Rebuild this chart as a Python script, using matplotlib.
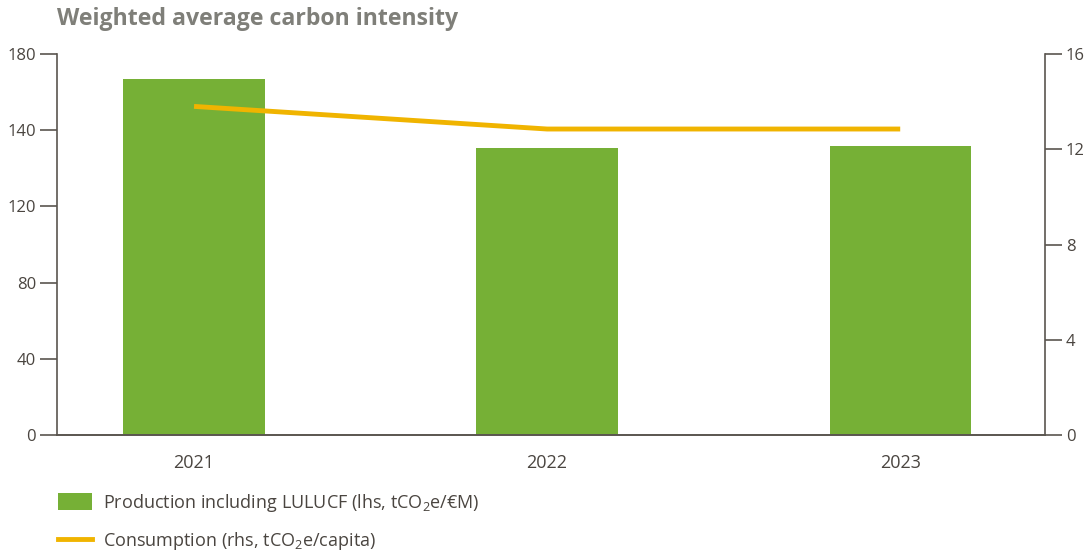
import matplotlib
matplotlib.use('Agg')
import matplotlib.pyplot as plt
from matplotlib.patches import Patch
from matplotlib.lines import Line2D

years = ['2021', '2022', '2023']
production = [186.7, 150.7, 151.7]
consumption = [13.8, 12.85, 12.85]
left_ticks = [0, 40, 80, 120, 160, 200]
left_labels = ['0', '40', '80', '120', '140', '180']
right_ticks = [0, 4, 8, 12, 16]

green = '#76b036'
yellow = '#f0b400'
axis_col = '#5a554f'
text_col = '#4a4540'

plt.rcParams['font.family'] = ['Open Sans', 'DejaVu Sans']
plt.rcParams['mathtext.fontset'] = 'custom'
plt.rcParams['mathtext.rm'] = 'Open Sans'
plt.rcParams['mathtext.it'] = 'Open Sans'


def main():
    fig = plt.figure(figsize=(10.84, 5.54), dpi=100)
    ax = fig.add_axes([0.0526, 0.2148, 0.9114, 0.6877])
    x = list(range(len(years)))

    ax.bar(x, production, width=0.40, color=green, zorder=2)
    ax.set_xlim(-0.388, 2.41)
    ax.set_ylim(0, 200)
    ax.set_yticks(left_ticks)
    ax.set_yticklabels(left_labels)
    ax.set_xticks(x)
    ax.set_xticklabels(years)
    ax.tick_params(axis='x', length=0, pad=14, labelsize=13, labelcolor=text_col)
    ax.tick_params(axis='y', length=12, width=1.2, color=axis_col,
                   labelsize=12, labelcolor=text_col, pad=3)

    ax2 = ax.twinx()
    ax2.plot(x, consumption, color=yellow, lw=3.5, solid_capstyle='butt', zorder=3)
    ax2.set_ylim(0, 16)
    ax2.set_yticks(right_ticks)
    ax2.tick_params(axis='y', length=12, width=1.2, color=axis_col,
                    labelsize=12, labelcolor=text_col, pad=3)

    for a in (ax, ax2):
        a.spines['top'].set_visible(False)
        for s in ('left', 'right', 'bottom'):
            a.spines[s].set_color(axis_col)
            a.spines[s].set_linewidth(1.2)
    ax.spines['right'].set_visible(False)
    ax2.spines['left'].set_visible(False)

    fig.text(0.053, 0.965, 'Weighted average carbon intensity', fontsize=16.7,
             fontweight='bold', color='#7f7f79', va='center', ha='left')

    handles = [Patch(facecolor=green, edgecolor='none'),
               Line2D([0], [0], color=yellow, lw=3.5)]
    labels = [r'Production including LULUCF (lhs, tCO$_2$e/€M)',
              r'Consumption (rhs, tCO$_2$e/capita)']
    fig.legend(handles, labels, loc='upper left', bbox_to_anchor=(0.047, 0.125),
               frameon=False, fontsize=13, labelcolor=text_col,
               handlelength=1.9, handleheight=1.05, handletextpad=0.58,
               labelspacing=0.9, borderaxespad=0)

    fig.savefig('out.png', dpi=100)


if __name__ == '__main__':
    main()
